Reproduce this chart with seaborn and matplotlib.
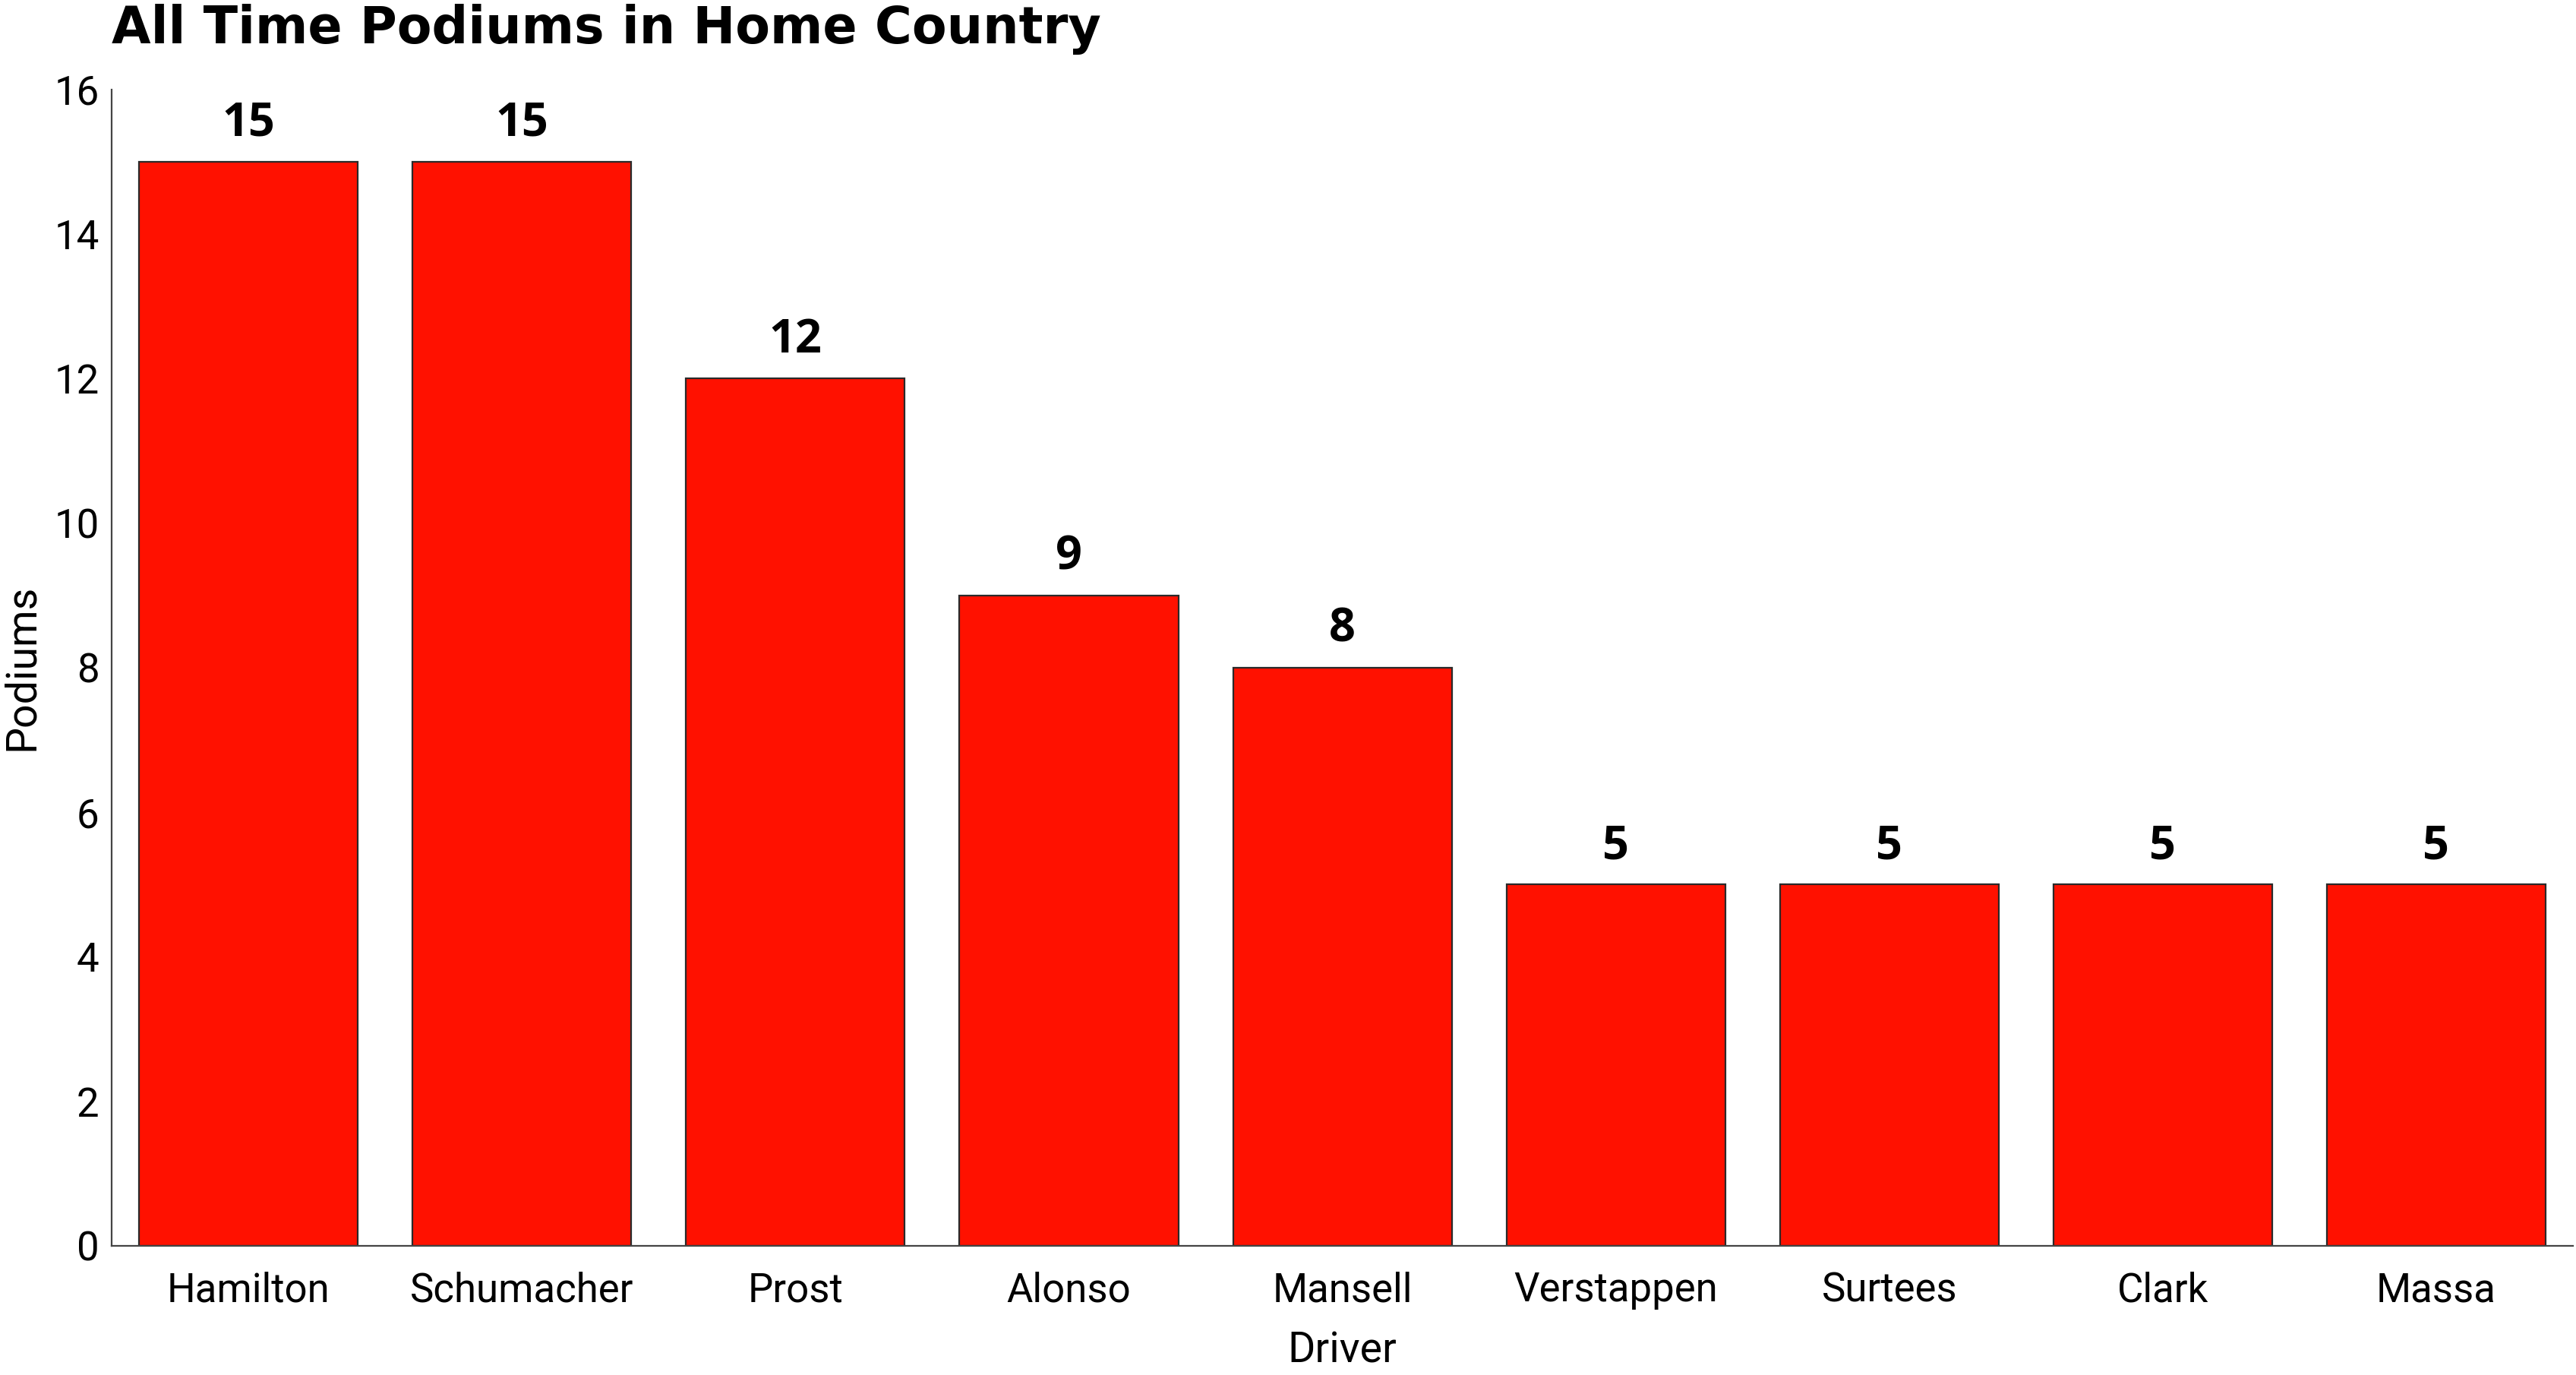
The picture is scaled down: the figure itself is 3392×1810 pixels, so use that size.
import matplotlib
matplotlib.use("Agg")
import matplotlib.pyplot as plt
import seaborn as sns
import pandas as pd

drivers = ['Hamilton', 'Schumacher', 'Prost', 'Alonso', 'Mansell',
           'Verstappen', 'Surtees', 'Clark', 'Massa']
podiums = [15, 15, 12, 9, 8, 5, 5, 5, 5]

df = pd.DataFrame({'Driver': drivers, 'Podiums': podiums})

sns.set_style("white")
plt.rcParams['font.family'] = ['Roboto', 'DejaVu Sans']
plt.rcParams['font.weight'] = 'normal'
for k in ['text.color', 'axes.labelcolor', 'xtick.labelcolor', 'ytick.labelcolor']:
    plt.rcParams[k] = 'black'

fig = plt.figure(figsize=(16.96, 9.05), dpi=200)
ax = fig.add_axes([0.0434, 0.094, 0.9554, 0.841])

sns.barplot(data=df, x='Driver', y='Podiums', color='#ff1100', saturation=1,
            edgecolor='#2a2a2a', linewidth=0.8, width=0.8, ax=ax)

for i, v in enumerate(podiums):
    ax.text(i, v + 0.2, str(v), ha='center', va='bottom', color='black',
            fontsize=22, fontweight='bold', family='Open Sans')

ax.set_xlim(-0.5, 8.5)
ax.set_ylim(0, 16)
ax.set_yticks(range(0, 17, 2))
ax.tick_params(axis='y', direction='in', length=7, width=0.8, color='#444444',
               labelsize=19, pad=6)
ax.tick_params(axis='x', length=0, labelsize=19, pad=12)
sns.despine(ax=ax)
for s in ['left', 'bottom']:
    ax.spines[s].set_linewidth(0.8)
    ax.spines[s].set_color('#444444')

ax.set_xlabel('Driver', fontsize=20, labelpad=10)
ax.set_ylabel('Podiums', fontsize=20, labelpad=6)
ax.set_title('All Time Podiums in Home Country', loc='left', fontsize=24,
             fontweight='heavy', family='DejaVu Sans', color='black', pad=22)

fig.savefig('out.png', dpi=200)
